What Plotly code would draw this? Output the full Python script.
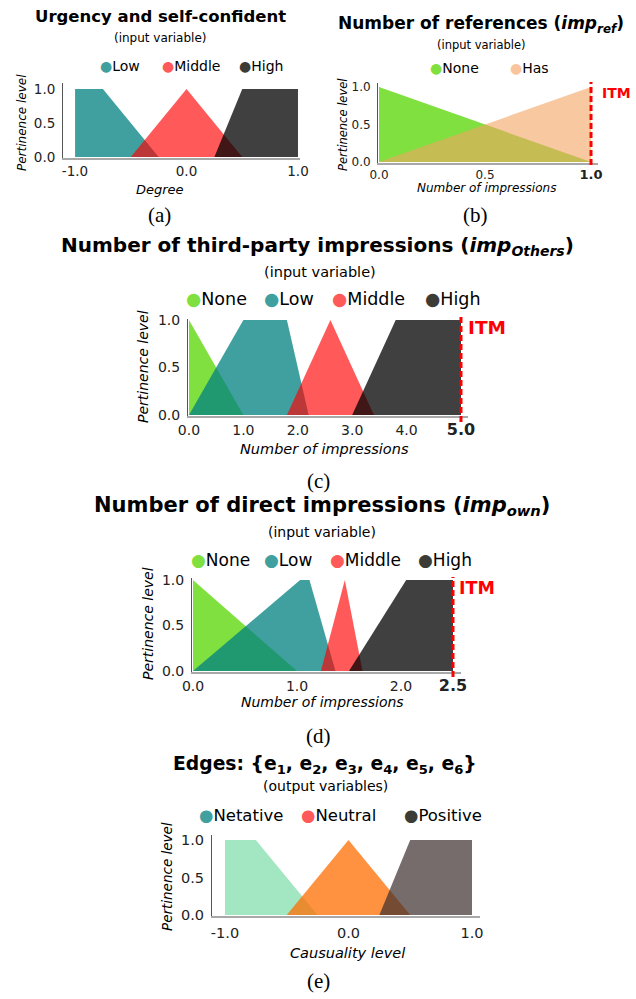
import plotly.graph_objects as go

W, H = 636, 999

# ---------------- data ----------------
# (a) Urgency and self-confident
urg_names = ["Low", "Middle", "High"]
urg_low_x = [-1.0, -1.0, -0.75, -0.25]
urg_low_y = [0, 1, 1, 0]
urg_mid_x = [-0.5, 0.0, 0.5]
urg_mid_y = [0, 1, 0]
urg_high_x = [0.25, 0.5, 1.0, 1.0]
urg_high_y = [0, 1, 1, 0]
urg_ticks = [-1.0, 0.0, 1.0]

# (b) Number of references
ref_names = ["None", "Has"]
ref_none_x = [0.0, 0.0, 1.0]
ref_none_y = [0, 1, 0]
ref_has_x = [0.0, 1.0, 1.0]
ref_has_y = [0, 1, 0]
ref_ticks = [0.0, 0.5, 1.0]
ref_itm = 1.0

# (c) Number of third-party impressions
oth_names = ["None", "Low", "Middle", "High"]
oth_none_x = [0.0, 0.0, 1.0]
oth_none_y = [0, 1, 0]
oth_low_x = [0.0, 1.0, 1.8, 2.2]
oth_low_y = [0, 1, 1, 0]
oth_mid_x = [1.8, 2.6, 3.4]
oth_mid_y = [0, 1, 0]
oth_high_x = [3.0, 3.8, 5.0, 5.0]
oth_high_y = [0, 1, 1, 0]
oth_ticks = [0.0, 1.0, 2.0, 3.0, 4.0, 5.0]
oth_itm = 5.0

# (d) Number of direct impressions
own_names = ["None", "Low", "Middle", "High"]
own_none_x = [0.0, 0.0, 1.0]
own_none_y = [0, 1, 0]
own_low_x = [0.0, 1.03, 1.12, 1.37]
own_low_y = [0, 1, 1, 0]
own_mid_x = [1.23, 1.46, 1.63]
own_mid_y = [0, 1, 0]
own_high_x = [1.5, 2.05, 2.5, 2.5]
own_high_y = [0, 1, 1, 0]
own_ticks = [0.0, 1.0, 2.0, 2.5]
own_itm = 2.5

# (e) Edges (output variables)
edg_names = ["Netative", "Neutral", "Positive"]
edg_neg_x = [-1.0, -1.0, -0.75, -0.25]
edg_neg_y = [0, 1, 1, 0]
edg_neu_x = [-0.5, 0.0, 0.5]
edg_neu_y = [0, 1, 0]
edg_pos_x = [0.25, 0.5, 1.0, 1.0]
edg_pos_y = [0, 1, 1, 0]
edg_ticks = [-1.0, 0.0, 1.0]

y_ticks = [0.0, 0.5, 1.0]

# ---------------- styles ----------------
TEAL = "rgba(0,128,128,0.75)"
RED = "rgba(255,0,0,0.65)"
DARK = "rgba(0,0,0,0.75)"
GREEN = "rgba(85,213,0,0.75)"
PEACH = "rgba(244,164,96,0.6)"
MINT = "rgba(50,200,120,0.45)"
ORANGE = "rgba(255,110,0,0.75)"
BROWN = "rgba(60,45,45,0.7)"

FONT = "DejaVu Sans"
SERIF = "Liberation Serif"


def px(x):
    return x / W


def py(y):
    return 1 - y / H


fig = go.Figure()
annotations = []
shapes = []
layout = {}


def add_panel(i, series, ticks, xdom, xr, ydom, yr, tickfont, bold_last=None,
              xstand=0, ystand=4):
    xa = "x" if i == 1 else f"x{i}"
    ya = "y" if i == 1 else f"y{i}"
    for (xs, ys, col) in series:
        fig.add_trace(go.Scatter(x=xs, y=ys, fill="toself", fillcolor=col,
                                 mode="lines", line=dict(width=0, color=col),
                                 hoverinfo="skip", showlegend=False,
                                 xaxis=xa, yaxis=ya))
    ttext = [f"{t:.1f}" for t in ticks]
    if bold_last:
        ttext[-1] = (f'<span style="font-size:{bold_last}px"><b>{ttext[-1]}</b></span>')
    key = "" if i == 1 else str(i)
    layout[f"xaxis{key}"] = dict(
        domain=[px(xdom[0]), px(xdom[1])], range=xr, anchor=ya,
        automargin=False,
        showline=True, linecolor="#a8a8a8", linewidth=2, showgrid=False,
        zeroline=False, ticks="", tickvals=ticks, ticktext=ttext,
        tickfont=dict(family=FONT, size=tickfont, color="#222"),
        ticklabelstandoff=xstand)
    layout[f"yaxis{key}"] = dict(
        domain=[py(ydom[1]), py(ydom[0])], range=yr, anchor=xa,
        automargin=False,
        showline=True, linecolor="#555", linewidth=1, showgrid=False,
        zeroline=False, ticks="", tickvals=y_ticks,
        ticktext=[f"{t:.1f}" for t in y_ticks],
        tickfont=dict(family=FONT, size=tickfont, color="#222"),
        ticklabelstandoff=ystand)


def text(x, y, s, size, bold=False, italic=False, color="black", family=FONT,
         angle=0, xanchor="center"):
    if bold:
        s = f"<b>{s}</b>"
    if italic:
        s = f"<i>{s}</i>"
    annotations.append(dict(x=px(x), y=py(y), xref="paper", yref="paper",
                            text=s, showarrow=False, textangle=angle,
                            xanchor=xanchor, yanchor="middle",
                            font=dict(family=family, size=size, color=color)))


def legend(names, colors, xs, y, size):
    for n, c, x in zip(names, colors, xs):
        text(x, y, f'<span style="color:{c}">●</span>{n}', size, xanchor="left")


def itm_line(i, xval, y0, y1, label_x, label_y, size):
    xa = "x" if i == 1 else f"x{i}"
    shapes.append(dict(type="line", xref=xa, yref="paper", x0=xval, x1=xval,
                       y0=py(y1), y1=py(y0),
                       line=dict(color="#ff0000", width=3, dash="6px,3px")))
    text(label_x, label_y, "ITM", size, bold=True, color="#ff0000", xanchor="left")


# ---- (a)
add_panel(1, [(urg_low_x, urg_low_y, TEAL), (urg_mid_x, urg_mid_y, RED),
              (urg_high_x, urg_high_y, DARK)], urg_ticks,
          (63, 300), [-1.108, 1.018], (83, 158), [-0.0147, 1.088], 13.5)
text(160, 17, "Urgency and self-confident", 16.5, bold=True)
text(160, 38, "(input variable)", 12)
legend(urg_names, ["rgb(64,160,160)", "rgb(255,90,90)", "rgb(60,60,55)"],
       [98, 160, 237], 66, 14)
text(160, 189, "Degree", 13, italic=True)
text(22, 123, "Pertinence level", 12, italic=True, angle=-90)
text(159, 215, "(a)", 21, family=SERIF)

# ---- (b)
add_panel(2, [(ref_none_x, ref_none_y, GREEN), (ref_has_x, ref_has_y, PEACH)],
          ref_ticks, (378, 598), [-0.0047, 1.033], (83, 163), [-0.013, 1.053],
          12, bold_last=13)
text(481, 25, "Number of references (<i>imp<sub>ref</sub></i>)", 17, bold=True)
text(481, 45, "(input variable)", 11.5)
legend(ref_names, ["rgb(128,224,64)", "rgb(250,196,158)"], [428, 508], 68, 14)
text(486, 188, "Number of impressions", 12, italic=True)
text(343, 125, "Pertinence level", 11.5, italic=True, angle=-90)
itm_line(2, ref_itm, 82, 165, 600, 93, 14)
text(476, 215, "(b)", 21, family=SERIF)

# ---- (c)
add_panel(3, [(oth_none_x, oth_none_y, GREEN), (oth_low_x, oth_low_y, TEAL),
              (oth_mid_x, oth_mid_y, RED), (oth_high_x, oth_high_y, DARK)],
          oth_ticks, (188, 468), [-0.018, 5.129], (319, 416), [-0.0105, 1.0105],
          14, bold_last=16)
text(317, 246, "Number of third-party impressions (<i>imp<sub>Others</sub></i>)", 20, bold=True)
text(320, 272, "(input variable)", 14.5)
legend(oth_names, ["rgb(128,224,64)", "rgb(64,160,160)", "rgb(255,90,90)", "rgb(60,60,55)"],
       [184, 262, 330, 423], 299, 17.5)
text(324, 449, "Number of impressions", 14.5, italic=True)
text(143, 367, "Pertinence level", 14, italic=True, angle=-90)
itm_line(3, oth_itm, 315, 422, 466, 328, 18.5)
text(318, 481, "(c)", 21, family=SERIF)

# ---- (d)
add_panel(4, [(own_none_x, own_none_y, GREEN), (own_low_x, own_low_y, TEAL),
              (own_mid_x, own_mid_y, RED), (own_high_x, own_high_y, DARK)],
          own_ticks, (192, 461), [-0.0096, 2.577], (578, 672), [-0.011, 1.022],
          14, bold_last=16)
text(322, 506, "Number of direct impressions (<i>imp<sub>own</sub></i>)", 21, bold=True)
text(322, 532, "(input variable)", 14)
legend(own_names, ["rgb(128,224,64)", "rgb(64,160,160)", "rgb(255,90,90)", "rgb(60,60,55)"],
       [189, 262, 328, 416], 560, 17)
text(322, 702, "Number of impressions", 14, italic=True)
text(148, 624, "Pertinence level", 14, italic=True, angle=-90)
itm_line(4, own_itm, 577, 677, 457, 588, 17.5)
text(318, 736, "(d)", 21, family=SERIF)

# ---- (e)
add_panel(5, [(edg_neg_x, edg_neg_y, MINT), (edg_neu_x, edg_neu_y, ORANGE),
              (edg_pos_x, edg_pos_y, BROWN)],
          edg_ticks, (212, 480), [-1.105, 1.065], (835, 916), [-0.013, 1.067], 14.5,
          xstand=3)
text(325, 765, "Edges: {e<sub>1</sub>, e<sub>2</sub>, e<sub>3</sub>, e<sub>4</sub>, "
     "e<sub>5</sub>, e<sub>6</sub>}", 18.75, bold=True)
text(325, 786, "(output variables)", 14)
legend(edg_names, ["rgb(64,160,160)", "rgb(255,90,90)", "rgb(60,60,55)"],
       [197, 299, 402], 815, 16.5)
text(347, 953, "Causuality level", 14.5, italic=True)
text(167, 877, "Pertinence level", 13.5, italic=True, angle=-90)
text(318, 981, "(e)", 21, family=SERIF)

fig.update_layout(width=W, height=H, margin=dict(l=0, r=0, t=0, b=0),
                  paper_bgcolor="white", plot_bgcolor="white",
                  showlegend=False, annotations=annotations, shapes=shapes,
                  **layout)

fig.write_html("out.html", config={"displayModeBar": False},
               post_script="document.body.style.margin='0px';")
